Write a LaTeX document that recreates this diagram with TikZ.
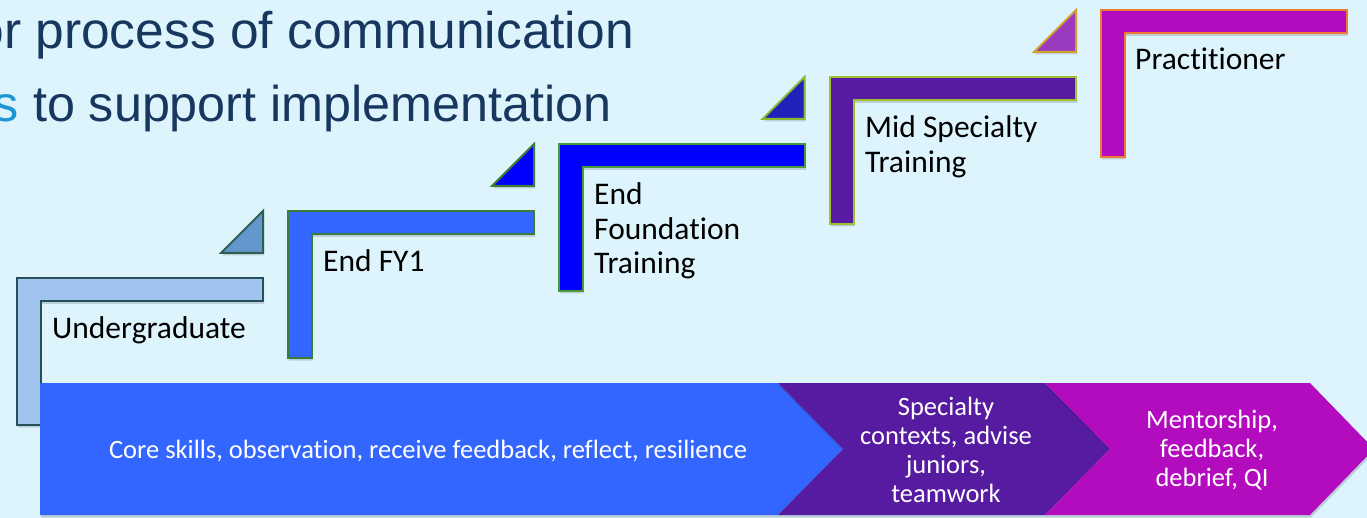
\documentclass[tikz,border=0pt]{standalone}
\usepackage{fontspec}
\setmainfont{Carlito}[Ligatures=NoCommon]
\newfontfamily\headfont{Liberation Sans}
\usetikzlibrary{shadows}

\definecolor{bgcyan}{HTML}{DDF4FD}
\definecolor{headnavy}{HTML}{17375E}
\definecolor{headblue}{HTML}{1F96D4}
\definecolor{ugfill}{HTML}{A0C4EE}
\definecolor{ugdraw}{HTML}{24505A}
\definecolor{trionefill}{HTML}{6497CF}
\definecolor{trionedraw}{HTML}{2E5E50}
\definecolor{coreblue}{HTML}{3366FF}
\definecolor{pureblue}{HTML}{0000FF}
\definecolor{greendraw}{HTML}{3A7D3A}
\definecolor{greendrawb}{HTML}{4A9A3A}
\definecolor{trithreefill}{HTML}{2020BB}
\definecolor{limedraw}{HTML}{8CB830}
\definecolor{deeppurple}{HTML}{561BA0}
\definecolor{limedrawb}{HTML}{A0C030}
\definecolor{trifourfill}{HTML}{9B3CC0}
\definecolor{golddraw}{HTML}{D0A030}
\definecolor{magenta}{HTML}{B30BBE}
\definecolor{orangedraw}{HTML}{F07830}

\tikzset{
  softshadow/.style={drop shadow={shadow xshift=1pt, shadow yshift=-2.5pt,
      opacity=0.15, fill=black}},
  stepshape/.style={line width=2pt, line join=miter, softshadow},
  headline/.style={inner sep=0pt, text=headnavy,
      font=\headfont\fontsize{#1}{#1}\selectfont},
  % multi-line labels sit on the baseline of their last line
  steplabel/.style={inner sep=0pt, anchor=base west, align=left, text=black,
      font=\fontsize{31.5}{34.5}\selectfont},
  bandtext/.style={inner sep=0pt, align=center, text=white,
      font=\fontsize{26.5}{29}\selectfont},
}

% an L-shaped step: left x, top y
\newcommand\stepbar[4]{%
  \filldraw[stepshape, fill=#3, draw=#4]
    (#1,#2) -- ++(246,0) -- ++(0,23.5) -- ++(-222.5,0) -- ++(0,123.5)
    -- ++(-23.5,0) -- cycle;}
% a small right-angled wedge: top-right corner x, y
\newcommand\stepwedge[4]{%
  \filldraw[stepshape, fill=#3, draw=#4]
    (#1,#2) -- ++(0,42) -- ++(-42,0) -- cycle;}

\begin{document}
\begin{tikzpicture}[x=1pt, y=-1pt]
\useasboundingbox (0,0) rectangle (1367,518);
\clip (0,0) rectangle (1367,518);
\fill[bgcyan] (0,0) rectangle (1367,518);

% heading lines
\node[headline=51.5, anchor=base east] (headone) at (634,49)
  {or process of communication};
\node[headline=50.3, anchor=base east] (headtwo) at (612,122)
  {\textcolor{headblue}{s} to support implementation};

% staircase of stages
\stepbar{17}{278}{ugfill}{ugdraw}
\stepwedge{263}{211}{trionefill}{trionedraw}
\stepbar{288}{211}{coreblue}{greendraw}
\stepwedge{534}{144}{pureblue}{greendraw}
\stepbar{559}{144}{pureblue}{greendrawb}
\stepwedge{804.5}{77}{trithreefill}{limedraw}
\stepbar{830}{77}{deeppurple}{limedrawb}
\stepwedge{1076}{10}{trifourfill}{golddraw}
\stepbar{1101}{10}{magenta}{orangedraw}

\node[steplabel] (ug) at (52,338) {Undergraduate};
\node[steplabel] (fyone) at (323,272) {End FY1};
\node[steplabel] (eft) at (594,274) {End\\Foundation\\Training};
\node[steplabel] (mid) at (865,172.5) {Mid Specialty\\Training};
\node[steplabel] (prac) at (1135,70) {Practitioner};

% chevron band along the bottom
\fill[coreblue, softshadow] (40,383) -- (778,383) -- (843,449) -- (778,515)
  -- (40,515) -- cycle;
\fill[deeppurple, softshadow] (778,383) -- (1045,383) -- (1110,449)
  -- (1045,515) -- (778,515) -- (843,449) -- cycle;
\fill[magenta, softshadow] (1045,383) -- (1310,383) -- (1374,449)
  -- (1310,515) -- (1045,515) -- (1110,449) -- cycle;

\node[bandtext] (core) at (428,451)
  {Core skills, observation, receive feedback, reflect, resilience};
\node[bandtext] (spec) at (946,449.5)
  {Specialty\\contexts, advise\\juniors,\\teamwork};
\node[bandtext] (ment) at (1212,450) {Mentorship,\\feedback,\\debrief, QI};
\end{tikzpicture}
\end{document}
